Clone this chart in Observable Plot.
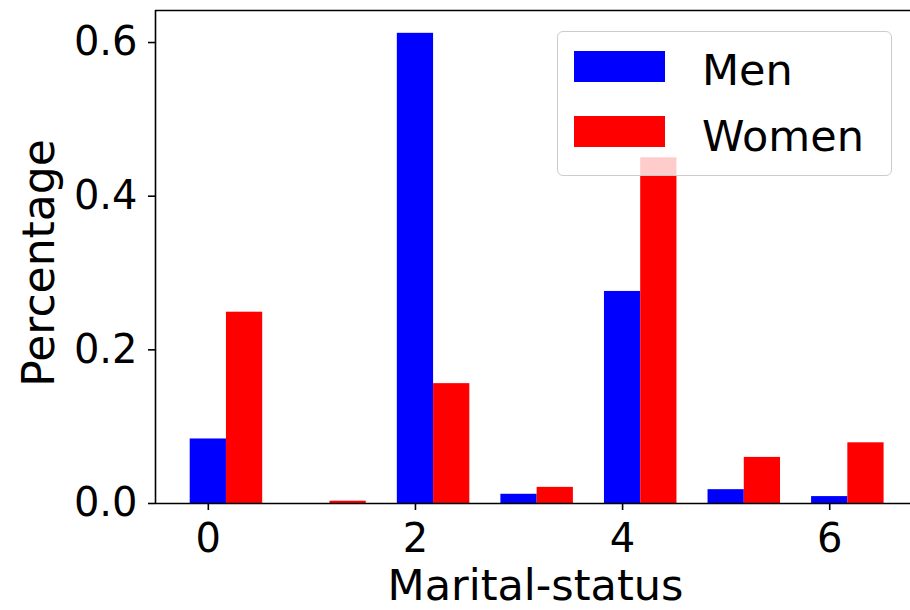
<!DOCTYPE html>
<html>
<head>
<meta charset="utf-8">
<script src="https://cdn.jsdelivr.net/npm/d3@7"></script>
<script src="https://cdn.jsdelivr.net/npm/@observablehq/plot@0.6"></script>
<style>
  html, body { margin: 0; padding: 0; background: #fff; }
  #wrap { position: relative; width: 910px; height: 610px; overflow: hidden; font-family: "DejaVu Sans", sans-serif; }
  #legend { position: absolute; left: 557px; top: 31px; width: 333px; height: 143px;
    background: rgba(255,255,255,0.8); border: 1px solid #cccccc; border-radius: 6px; }
  .sw { position: absolute; left: 16px; width: 91px; height: 31px; }
  .lab { position: absolute; left: 144px; font-size: 43px; line-height: 43px; color: #000; white-space: nowrap; }
</style>
</head>
<body>
<div id="wrap"></div>
<script>
const categories = [0, 1, 2, 3, 4, 5, 6];
const men = [0.084, 0.0, 0.612, 0.012, 0.276, 0.018, 0.009];
const women = [0.249, 0.003, 0.156, 0.021, 0.450, 0.060, 0.079];
const series = ["Men", "Women"];
const colors = ["#0000ff", "#ff0000"];
const xTicks = [0, 2, 4, 6];
const yTicks = [0, 0.2, 0.4, 0.6];
const xLabel = "Marital-status";
const yLabel = "Percentage";

const barWidth = 0.35;
const rows = [];
categories.forEach((c, i) => {
  rows.push({series: "Men", x1: c - barWidth / 2, x2: c + barWidth / 2, value: men[i]});
  rows.push({series: "Women", x1: c + barWidth / 2, x2: c + 1.5 * barWidth, value: women[i]});
});

const xDomain = [-0.51, 6.78];
const yDomain = [0, 0.6417];

const chart = Plot.plot({
  width: 910,
  height: 610,
  marginLeft: 155,
  marginRight: 0,
  marginTop: 10,
  marginBottom: 107,
  style: {fontFamily: "DejaVu Sans, sans-serif", fontSize: "40px", color: "#000", background: "#fff"},
  x: {domain: xDomain, label: null},
  y: {domain: yDomain, label: null},
  color: {domain: series, range: colors},
  marks: [
    Plot.rect(rows, {x1: "x1", x2: "x2", y1: () => 0, y2: "value", fill: "series"}),
    Plot.ruleY([yDomain[0], yDomain[1]], {stroke: "#000", strokeWidth: 1.6}),
    Plot.ruleX([xDomain[0]], {stroke: "#000", strokeWidth: 1.6}),
    Plot.axisX({ticks: xTicks, tickFormat: d3.format("d"), tickSize: 7, tickPadding: 13, fontSize: 40, stroke: "#000", strokeWidth: 1.6, label: null}),
    Plot.axisY({ticks: yTicks, tickFormat: d3.format(".1f"), tickSize: 7, tickPadding: 11, fontSize: 40, stroke: "#000", strokeWidth: 1.6, label: null}),
    Plot.text([xLabel], {text: d => d, frameAnchor: "bottom", textAnchor: "middle", lineAnchor: "middle", dy: 83, dx: 2.5, fontSize: 43, fill: "#000"}),
    Plot.text([yLabel], {text: d => d, frameAnchor: "left", textAnchor: "middle", lineAnchor: "middle", dx: -116, dy: 6, rotate: -90, fontSize: 44, fill: "#000"})
  ]
});

const wrap = document.getElementById("wrap");
wrap.appendChild(chart);

const legend = document.createElement("div");
legend.id = "legend";
series.forEach((s, i) => {
  const sw = document.createElement("div");
  sw.className = "sw";
  sw.style.top = (19 + i * 65) + "px";
  sw.style.background = colors[i];
  const label = document.createElement("div");
  label.className = "lab";
  label.style.top = (17 + i * 66) + "px";
  label.textContent = s;
  legend.appendChild(sw);
  legend.appendChild(label);
});
wrap.appendChild(legend);
</script>
</body>
</html>
